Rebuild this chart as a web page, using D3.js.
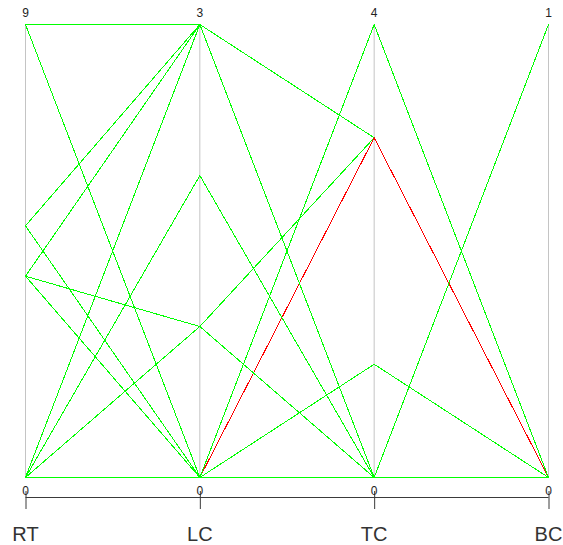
<!DOCTYPE html>
<html>
<head>
<meta charset="utf-8">
<script src="https://cdn.jsdelivr.net/npm/d3@7"></script>
<style>
  html, body { margin: 0; padding: 0; background: #fff; }
  svg { display: block; }
</style>
</head>
<body>
<svg id="chart" width="563" height="545"></svg>
<script>
// Dimensions shown as parallel axes
const dimensions = ["RT", "LC", "TC", "BC"];

// One record per polyline, drawn in this order: values for RT, LC, TC, BC
const rtValues = [9, 4, 0, 9, 5, 5, 4, 4, 0, 0, 0, 0];
const lcValues = [3, 1, 0, 0, 3, 0, 3, 0, 3, 2, 1, 0];
const tcValues = [3, 3, 3, 4, 0, 1, 0, 0, 0, 0, 0, 0];
const bcValues = [0, 0, 0, 0, 1, 0, 0, 0, 0, 0, 0, 0];

// Index of the highlighted record
const highlightIndex = 2;

const records = rtValues.map((v, i) => ({
  RT: v, LC: lcValues[i], TC: tcValues[i], BC: bcValues[i], highlight: i === highlightIndex
}));

const svg = d3.select("#chart");

const plotTop = 24, plotBottom = 477;
const x = d3.scalePoint().domain(dimensions).range([25, 548]);

const y = {};
dimensions.forEach(d => {
  y[d] = d3.scaleLinear()
    .domain([0, d3.max(records, r => r[d])])
    .range([plotBottom, plotTop]);
});

// Vertical axis guides
svg.append("g")
  .selectAll("line")
  .data(dimensions)
  .join("line")
  .attr("x1", d => x(d) + 0.5).attr("x2", d => x(d) + 0.5)
  .attr("y1", plotTop).attr("y2", plotBottom)
  .attr("stroke", "#c4c4c4")
  .attr("stroke-width", 1);

const line = d3.line();
const pathOf = r => line(dimensions.map(d => [x(d) + 0.5, y[d](r[d]) + 0.5]));

// Records
svg.append("g")
  .selectAll("path")
  .data(records)
  .join("path")
  .attr("d", pathOf)
  .attr("fill", "none")
  .attr("stroke", r => r.highlight ? "#ff0000" : "#00ff00")
  .attr("stroke-width", 1)
  .attr("shape-rendering", "crispEdges");

// Max labels at the top of each axis
svg.append("g")
  .selectAll("text")
  .data(dimensions)
  .join("text")
  .attr("x", d => x(d) + 0.5)
  .attr("y", 17)
  .attr("text-anchor", "middle")
  .attr("font-family", "Liberation Sans, Arial, sans-serif")
  .attr("font-size", 12)
  .attr("fill", "#222")
  .text(d => y[d].domain()[1]);

// Bottom axis: baseline, ticks, min labels and names
const axisY = 497;
const axis = svg.append("g").attr("transform", `translate(0,${axisY})`);
axis.call(d3.axisBottom(x).tickSizeInner(12).tickSizeOuter(0).tickFormat(""));
axis.select(".domain").attr("stroke", "#3a3a3a")
  .attr("d", `M${x(dimensions[0]) + 0.5},0.5H${x(dimensions[dimensions.length - 1]) + 0.5}`);
axis.selectAll(".tick line").attr("stroke", "#3a3a3a").attr("y1", -6).attr("transform", "translate(0.5,0)");

svg.append("g")
  .selectAll("text")
  .data(dimensions)
  .join("text")
  .attr("x", d => x(d) + 0.5)
  .attr("y", 495)
  .attr("text-anchor", "middle")
  .attr("font-family", "Liberation Sans, Arial, sans-serif")
  .attr("font-size", 12)
  .attr("fill", "#222")
  .text(d => y[d].domain()[0]);

svg.append("g")
  .selectAll("text")
  .data(dimensions)
  .join("text")
  .attr("x", d => x(d) + 0.5)
  .attr("y", 541)
  .attr("text-anchor", "middle")
  .attr("font-family", "Liberation Sans, Arial, sans-serif")
  .attr("font-size", 20)
  .attr("fill", "#333")
  .text(d => d);
</script>
</body>
</html>
